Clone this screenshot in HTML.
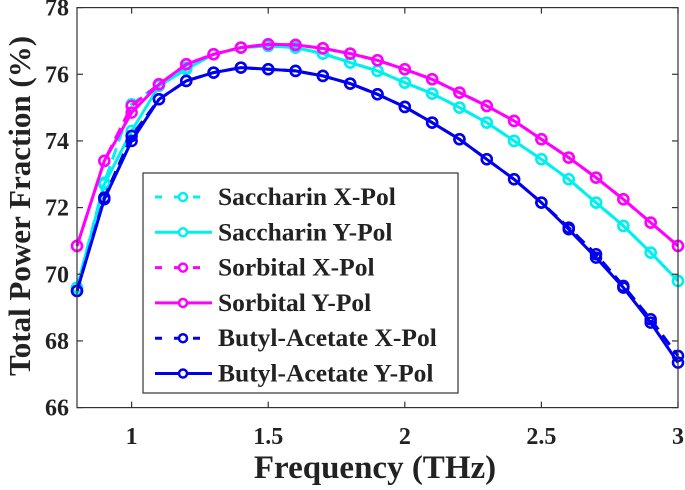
<!DOCTYPE html>
<html><head><meta charset="utf-8"><style>
body{margin:0;background:#fff}
svg text{font-family:"Liberation Serif",serif;font-weight:bold;fill:#222}
</style></head><body>
<svg id="chart" width="685" height="485" xmlns="http://www.w3.org/2000/svg">
<g id="series"></g>
<rect x="77" y="7.6" width="601" height="400" fill="none" stroke="#333" stroke-width="1.2"/>
<g id="axes"></g>
<text x="375" y="478" font-size="33" text-anchor="middle">Frequency (THz)</text>
<text transform="translate(30,206) rotate(-90)" font-size="31" text-anchor="middle">Total Power Fraction (%)</text>
<g id="legend"></g>
</svg>
<script>
const freqs=[0.8,0.9,1.0,1.1,1.2,1.3,1.4,1.5,1.6,1.7,1.8,1.9,2.0,2.1,2.2,2.3,2.4,2.5,2.6,2.7,2.8,2.9,3.0];
const saccharinX=[69.6,72.75,75.1,75.7,76.2,76.6,76.8,76.85,76.8,76.62,76.35,76.1,75.75,75.42,75.0,74.55,74.0,73.45,72.85,72.15,71.45,70.65,69.8];
const saccharinY=[69.6,72.7,74.3,75.65,76.15,76.6,76.8,76.85,76.8,76.62,76.35,76.1,75.75,75.42,75.0,74.55,74.0,73.45,72.85,72.15,71.45,70.65,69.8];
const sorbitalX=[70.85,73.4,75.05,75.7,76.3,76.6,76.8,76.9,76.88,76.78,76.62,76.42,76.15,75.85,75.45,75.05,74.6,74.05,73.5,72.9,72.25,71.55,70.85];
const sorbitalY=[70.85,73.4,74.85,75.7,76.3,76.6,76.8,76.9,76.88,76.78,76.62,76.42,76.15,75.85,75.45,75.05,74.6,74.05,73.5,72.9,72.25,71.55,70.85];
const butylX=[69.5,72.3,74.15,75.25,75.8,76.05,76.2,76.15,76.1,75.95,75.72,75.4,75.02,74.55,74.05,73.45,72.85,72.15,71.4,70.6,69.65,68.65,67.55];
const butylY=[69.5,72.25,74.0,75.25,75.8,76.05,76.2,76.15,76.1,75.95,75.72,75.4,75.02,74.55,74.05,73.45,72.85,72.15,71.35,70.5,69.6,68.55,67.35];
const xTicks=[1,1.5,2,2.5,3];
const xTickLabels=["1","1.5","2","2.5","3"];
const yTicks=[66,68,70,72,74,76,78];
const yTickLabels=["66","68","70","72","74","76","78"];
const seriesNames=["Saccharin X-Pol","Saccharin Y-Pol","Sorbital X-Pol","Sorbital Y-Pol","Butyl-Acetate X-Pol","Butyl-Acetate Y-Pol"];

const NS="http://www.w3.org/2000/svg";
const X0=77,X1=678,Y0=407.6,Y1=7.6;
const xs=v=>X0+(v-0.8)/(3.0-0.8)*(X1-X0);
const ys=v=>Y0-(v-66)/(78-66)*(Y0-Y1);
function mk(t,a,p){const e=document.createElementNS(NS,t);for(const k in a)e.setAttribute(k,a[k]);p.appendChild(e);return e;}
const axes=document.getElementById('axes');
xTicks.forEach((t,i)=>{
  const l=mk('line',{x1:xs(t),x2:xs(t),y1:Y0,y2:Y0-6,stroke:'#333','stroke-width':1.2},axes);
  
  
  const l2=mk('line',{x1:xs(t),x2:xs(t),y1:Y1,y2:Y1+6,stroke:'#333','stroke-width':1.2},axes);
  
  
  const tx=mk('text',{x:xs(t),y:444,'font-size':24,'text-anchor':'middle'},axes);
  tx.textContent=xTickLabels[i];
  
  
});
yTicks.forEach((t,i)=>{
  const l=mk('line',{x1:X0,x2:X0+6,y1:ys(t),y2:ys(t),stroke:'#333','stroke-width':1.2},axes);
  
  
  const l2=mk('line',{x1:X1,x2:X1-6,y1:ys(t),y2:ys(t),stroke:'#333','stroke-width':1.2},axes);
  
  
  const tx=mk('text',{x:X0-8,y:ys(t)+8,'font-size':24,'text-anchor':'end'},axes);
  tx.textContent=yTickLabels[i];
  
  
});
const defs=[
 {d:saccharinX,c:'#00f0f0',dash:'12,7'},
 {d:saccharinY,c:'#00f0f0',dash:''},
 {d:sorbitalX,c:'#ff00ff',dash:'12,7'},
 {d:sorbitalY,c:'#ff00ff',dash:''},
 {d:butylX,c:'#0000ee',dash:'12,7'},
 {d:butylY,c:'#0000ee',dash:''}];
const sg=document.getElementById('series');
defs.forEach((s,i)=>{
  const g=mk('g',{},sg);
  
  
  const pts=freqs.map((f,j)=>xs(f).toFixed(1)+','+ys(s.d[j]).toFixed(1)).join(' ');
  const pl=mk('polyline',{points:pts,fill:'none',stroke:s.c,'stroke-width':3,'stroke-dasharray':s.dash},g);
  
  
  freqs.forEach((f,j)=>{
    const c=mk('circle',{cx:xs(f),cy:ys(s.d[j]),r:5,fill:'none',stroke:s.c,'stroke-width':2.5},g);
    
    
  });
});
const lg=document.getElementById('legend');
const box=mk('rect',{x:143,y:173,width:315,height:220,fill:'#fff',stroke:'#333','stroke-width':1.2},lg);


defs.forEach((s,i)=>{
  const y=197+i*35.3;
  const g=mk('g',{},lg);
  
  
  mk('line',{x1:155,x2:212,y1:y,y2:y,stroke:s.c,'stroke-width':3,'stroke-dasharray':s.dash?'7,12':''},g);
  mk('circle',{cx:183,cy:y,r:4,fill:'#fff',stroke:s.c,'stroke-width':2.5},g);
  const t=mk('text',{x:218,y:y+8,'font-size':25.5},g);
  t.textContent=seriesNames[i];
});
</script>
</body></html>
